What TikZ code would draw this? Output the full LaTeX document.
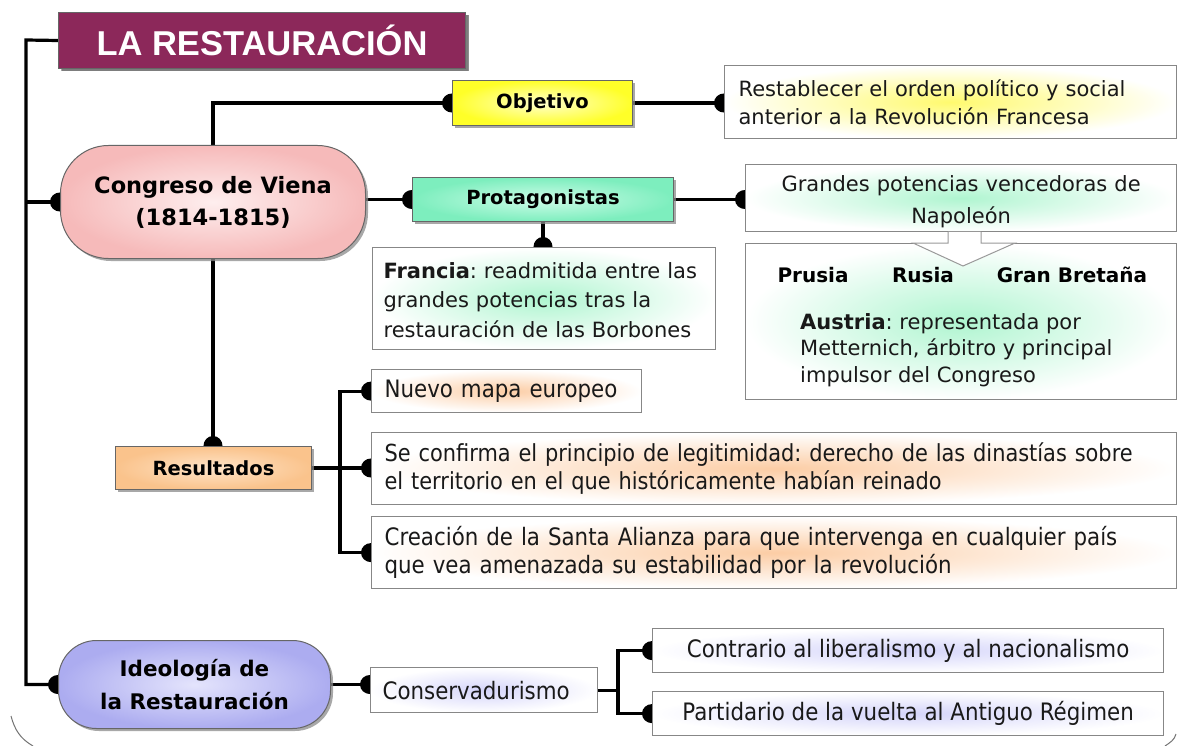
\documentclass[tikz,border=0pt]{standalone}
\usepackage{fontspec}
\setmainfont{DejaVu Sans}
\newfontfamily\titlefont{Liberation Sans}
\newfontfamily\narrowfont[FakeStretch=0.89]{DejaVu Sans}
\usetikzlibrary{arrows.meta,shadows,backgrounds}
\definecolor{titlec}{RGB}{140,40,90}
\definecolor{pinkO}{RGB}{246,186,186}
\definecolor{pinkI}{RGB}{254,238,238}
\definecolor{yelO}{RGB}{255,255,40}
\definecolor{yelI}{RGB}{255,255,205}
\definecolor{mintO}{RGB}{125,238,190}
\definecolor{mintI}{RGB}{205,252,232}
\definecolor{orO}{RGB}{250,195,140}
\definecolor{orI}{RGB}{255,228,200}
\definecolor{lavO}{RGB}{172,172,240}
\definecolor{lavI}{RGB}{228,228,252}
\definecolor{glowY}{RGB}{255,250,110}
\definecolor{glowG}{RGB}{175,245,208}
\definecolor{glowO}{RGB}{252,205,165}
\definecolor{glowB}{RGB}{212,212,250}
\definecolor{txt}{RGB}{25,25,25}
\definecolor{bordg}{RGB}{135,135,135}
\frenchspacing
\begin{document}
\begin{tikzpicture}[x=1pt,y=-1pt,
  conn/.style={line width=3.2pt, line join=miter, -{Circle[length=20pt,width=19pt]}, shorten >=-10pt},
  plainline/.style={line width=3.2pt, line join=miter},
  colbox/.style={draw=black!60, line width=1pt, anchor=north west, inner sep=0pt,
     drop shadow={shadow xshift=2.5pt,shadow yshift=-2.5pt,fill=black!45,opacity=.75}},
  tbox/.style={draw=bordg, line width=1.2pt, anchor=north west, inner sep=0pt,
     inner color=#1, outer color=white, text=txt},
  bodyfont/.style={font=\fontsize{21}{27.5}\selectfont},
  narrow/.style={font=\narrowfont\fontsize{24}{28}\selectfont},
  lab/.style={font=\bfseries\fontsize{19.5}{24}\selectfont}
]
\useasboundingbox (0,0) rectangle (1177,746);

% title
\node[colbox, fill=titlec, minimum width=407pt, minimum height=56pt, text=white,
  font=\titlefont\bfseries\fontsize{34.5}{40}\selectfont,
  drop shadow={shadow xshift=3pt,shadow yshift=-3pt,fill=black!55,opacity=.8}]
  (title) at (58,12) {LA RESTAURACIÓN};

% Congreso
\node[colbox, rounded corners=48pt, inner color=pinkI, outer color=pinkO,
  minimum width=305pt, minimum height=113pt, align=center,
  font=\bfseries\fontsize{22.5}{32}\selectfont] (cong) at (60,145)
  {Congreso de Viena\\(1814-1815)};

% Objetivo
\node[colbox, inner color=yelI, outer color=yelO, minimum width=180pt, minimum height=45pt, lab]
  (obj) at (452,80) {Objetivo};
\node[tbox=glowY, minimum width=452pt, minimum height=73pt, text width=424pt, inner xsep=14pt,
  align=left, bodyfont] (restab) at (724,65)
  {Restablecer el orden político y social\\anterior a la Revolución Francesa};

% Protagonistas
\node[colbox, inner color=mintI, outer color=mintO, minimum width=261pt, minimum height=44pt, lab]
  (prot) at (412,177) {Protagonistas};
\node[tbox=glowG, minimum width=343pt, minimum height=102pt, text width=321pt, inner xsep=11pt,
  align=left, font=\fontsize{21}{29.5}\selectfont] (francia) at (372,247)
  {\rule{0pt}{19pt}\textbf{Francia}: readmitida entre las\\grandes potencias tras la\\restauración de las Borbones};
\node[tbox=glowG, minimum width=431pt, minimum height=67pt, text width=411pt, inner xsep=10pt,
  align=center, font=\fontsize{21}{32}\selectfont] (grandes) at (745,164)
  {\rule{0pt}{24pt}Grandes potencias vencedoras de\\Napoleón};
\node[tbox=glowG, minimum width=431pt, minimum height=156pt] (pot) at (745,243) {};
\filldraw[fill=white, draw=black!40, line width=1pt]
  (948,231.8) -- (948,243) -- (913,243) -- (963,266) -- (1015,243) -- (981,243) -- (981,231.8);
\node[font=\bfseries\fontsize{20}{24}\selectfont, text=black] (prusia) at (813,275) {Prusia};
\node[font=\bfseries\fontsize{20}{24}\selectfont, text=black] (rusia) at (923,275) {Rusia};
\node[font=\bfseries\fontsize{20}{24}\selectfont, text=black] (gb) at (1072,275) {Gran Bretaña};
\node[anchor=west, inner sep=0pt, align=left, text=txt, font=\fontsize{21}{26.5}\selectfont]
  (austria) at (800,350)
  {\textbf{Austria}: representada por\\Metternich, árbitro y principal\\impulsor del Congreso};

% Resultados
\node[colbox, inner color=orI, outer color=orO, minimum width=196pt, minimum height=43pt, lab]
  (res) at (115,446) {Resultados};
\node[tbox=glowO, minimum width=257pt, minimum height=43pt, text width=244pt, inner xsep=13pt,
  align=left, narrow] (nuevo) at (371,369) {Nuevo mapa europeo};
\node[tbox=glowO, minimum width=792pt, minimum height=72pt, text width=779pt, inner xsep=13pt,
  align=left, font=\narrowfont\fontsize{23.5}{28}\selectfont] (sec) at (371,432)
  {Se confirma el principio de legitimidad: derecho de las dinastías sobre\\el territorio en el que históricamente habían reinado};
\node[tbox=glowO, minimum width=792pt, minimum height=72pt, text width=779pt, inner xsep=13pt,
  align=left, narrow] (crea) at (371,516)
  {Creación de la Santa Alianza para que intervenga en cualquier país\\que vea amenazada su estabilidad por la revolución};

% Ideologia
\node[colbox, rounded corners=38pt, inner color=lavI, outer color=lavO,
  minimum width=272pt, minimum height=88pt, align=center,
  font=\bfseries\fontsize{21.5}{33}\selectfont] (ideo) at (58,640)
  {Ideología de\\la Restauración};
\node[tbox=glowB, minimum width=215pt, minimum height=45pt, text width=203pt, inner xsep=12pt,
  align=left, narrow] (cons) at (370,667) {Conservadurismo};
\node[tbox=glowB, minimum width=511pt, minimum height=44pt, align=center, narrow]
  (contr) at (652,628) {Contrario al liberalismo y al nacionalismo};
\node[tbox=glowB, minimum width=511pt, minimum height=44pt, align=center, narrow]
  (part) at (652,691) {Partidario de la vuelta al Antiguo Régimen};

\coordinate (sp) at (26,40);
\coordinate (jr) at (340,0);
\coordinate (jc) at (618,0);

\begin{scope}[on background layer]
  \fill[white] (0,0) rectangle (1177,746);
  \draw[black!55, line width=1pt] (11,716) to[out=-75,in=150] (33,746);
  \draw[black!55, line width=1pt] (1165,746) to[out=35,in=-105] (1176,734);
  % spine
  \draw[conn] (title.west) -- (sp) |- (ideo.west);
  \draw[conn] (sp |- cong.west) -- (cong.west);
  % congreso
  \draw[conn] (cong.north) |- (obj.west);
  \draw[conn] (obj.east) -- (obj.east -| restab.west);
  \draw[conn] (cong.east |- prot.west) -- (prot.west);
  \draw[conn] (prot.east) -- (prot.east -| grandes.west);
  \draw[conn] (prot.south) -- (prot.south |- francia.north);
  \draw[conn] (cong.south) -- (cong.south |- res.north);
  % resultados
  \draw[conn] (res.east) -- (res.east -| sec.west);
  \draw[conn] (res.east -| jr) |- (nuevo.west);
  \draw[conn] (res.east -| jr) |- (crea.west);
  % ideologia
  \draw[conn] (ideo.east) -- (ideo.east -| cons.west);
  \draw[plainline] (cons.east) -- (cons.east -| jc);
  \draw[conn] (cons.east -| jc) |- (contr.west);
  \draw[conn] (cons.east -| jc) |- (part.west);
\end{scope}
\end{tikzpicture}
\end{document}
